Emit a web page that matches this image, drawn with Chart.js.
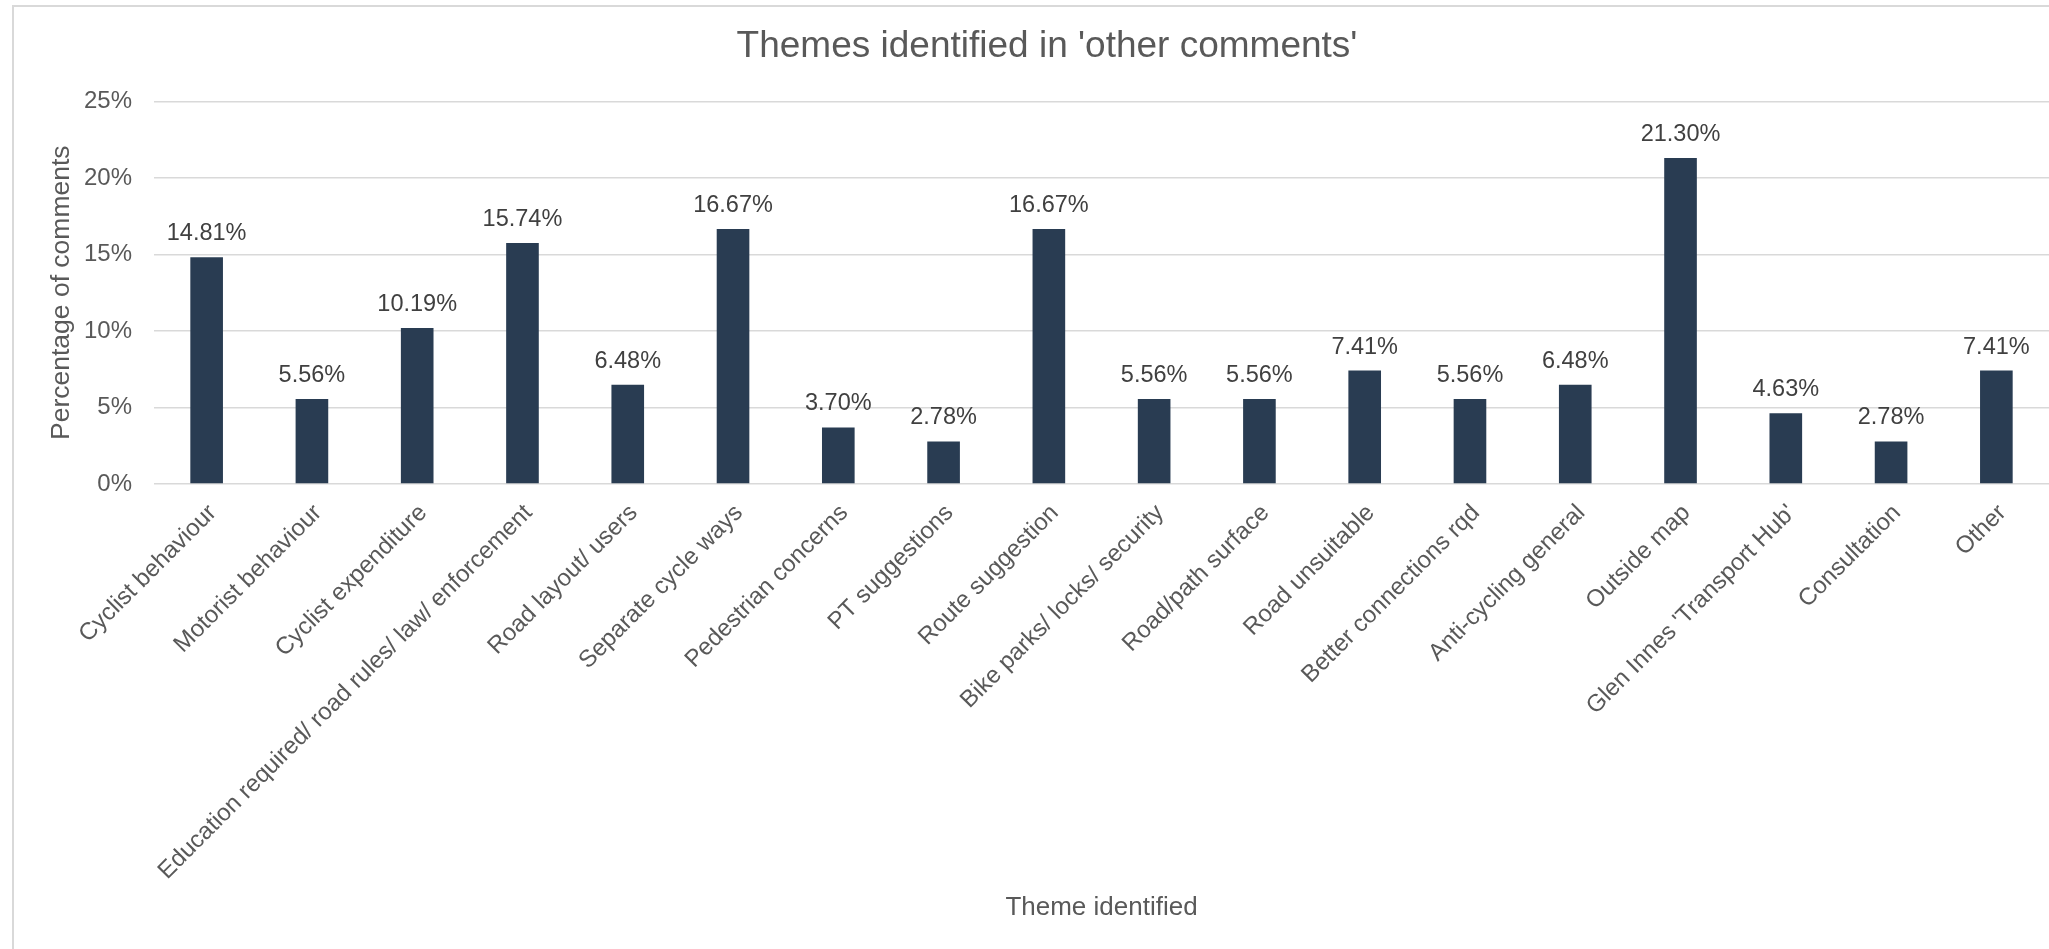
<!DOCTYPE html>
<html>
<head>
<meta charset="utf-8">
<title>Themes identified in 'other comments'</title>
<script src="https://cdn.jsdelivr.net/npm/chart.js@4.4.1/dist/chart.umd.min.js"></script>
<style>
    html, body { margin: 0; padding: 0; background: #fff; overflow: hidden; }
    #wrap { position: relative; width: 2049px; height: 949px; }
    #frame {
        position: absolute; left: 12px; top: 5px; width: 2100px; height: 1000px;
        border-left: 2px solid #d9d9d9; border-top: 2px solid #d9d9d9;
        pointer-events: none;
    }
</style>
</head>
<body>
<div id="wrap">
    <canvas id="theme-chart" width="2049" height="949"></canvas>
    <div id="frame"></div>
</div>
<script>
// Themes identified in 'other comments' - bar chart

const THEMES = [
    'Cyclist behaviour', 'Motorist behaviour', 'Cyclist expenditure',
    'Education required/ road rules/ law/ enforcement', 'Road layout/ users',
    'Separate cycle ways', 'Pedestrian concerns', 'PT suggestions',
    'Route suggestion', 'Bike parks/ locks/ security', 'Road/path surface',
    'Road unsuitable', 'Better connections rqd', 'Anti-cycling general',
    'Outside map', "Glen Innes 'Transport Hub'", 'Consultation', 'Other',
];

// percentage of comments
const SHARES = [
    14.81, 5.56, 10.19, 15.74, 6.48, 16.67, 3.70, 2.78, 16.67,
    5.56, 5.56, 7.41, 5.56, 6.48, 21.30, 4.63, 2.78, 7.41,
];

const Y_TICKS = [0, 5, 10, 15, 20, 25];

const BAR_COLOR = '#293c52';
const TEXT_COLOR = '#595959';
const LABEL_COLOR = '#404040';
const GRID_COLOR = '#d9d9d9';
const FONT = "'Liberation Sans', Arial, sans-serif";

// --- Plugins ---

// value labels above each bar
const valueLabels = {
    id: 'valueLabels',
    afterDatasetsDraw(chart) {
        const ctx = chart.ctx;
        const meta = chart.getDatasetMeta(0);
        ctx.save();
        ctx.font = `23.5px ${FONT}`;
        ctx.fillStyle = LABEL_COLOR;
        ctx.textAlign = 'center';
        ctx.textBaseline = 'alphabetic';
        meta.data.forEach((bar, i) => {
            ctx.fillText(SHARES[i].toFixed(2) + '%', bar.x, bar.y - 17);
        });
        ctx.restore();
    },
};

// --- Chart ---

const ctx = document.getElementById('theme-chart').getContext('2d');

new Chart(ctx, {
    type: 'bar',
    data: {
        labels: THEMES,
        datasets: [{
            label: 'Percentage of comments',
            data: SHARES,
            backgroundColor: BAR_COLOR,
            borderWidth: 0,
            barPercentage: 0.31,
            categoryPercentage: 1,
        }],
    },
    options: {
        responsive: false,
        animation: false,
        layout: { padding: { left: 45, right: 0, top: 0, bottom: 22 } },
        plugins: {
            legend: { display: false },
            tooltip: { enabled: false },
            title: {
                display: true,
                text: "Themes identified in 'other comments'",
                color: TEXT_COLOR,
                font: { family: FONT, size: 37, weight: 'normal' },
                padding: { top: 25, bottom: 32 },
            },
        },
        scales: {
            x: {
                grid: { display: false, drawTicks: false },
                border: { display: false },
                ticks: {
                    autoSkip: false,
                    minRotation: 45,
                    maxRotation: 45,
                    padding: 15,
                    labelOffset: 6,
                    color: TEXT_COLOR,
                    font: { family: FONT, size: 24 },
                },
                title: {
                    display: true,
                    text: 'Theme identified',
                    color: TEXT_COLOR,
                    font: { family: FONT, size: 26 },
                    padding: { top: 0, bottom: 4 },
                },
                afterFit(scale) { scale.height = 443; },
            },
            y: {
                min: 0,
                max: 25,
                grid: { color: GRID_COLOR, lineWidth: 1.6, drawTicks: false },
                border: { display: false },
                afterBuildTicks(scale) {
                    scale.ticks = Y_TICKS.map(v => ({ value: v }));
                },
                ticks: {
                    padding: 22,
                    color: TEXT_COLOR,
                    font: { family: FONT, size: 24 },
                    callback: v => v + '%',
                },
                title: {
                    display: true,
                    text: 'Percentage of comments',
                    color: TEXT_COLOR,
                    font: { family: FONT, size: 26.5 },
                    padding: { top: 1, bottom: 0 },
                },
                afterFit(scale) { scale.width = 109; },
            },
        },
    },
    plugins: [valueLabels],
});
</script>
</body>
</html>
